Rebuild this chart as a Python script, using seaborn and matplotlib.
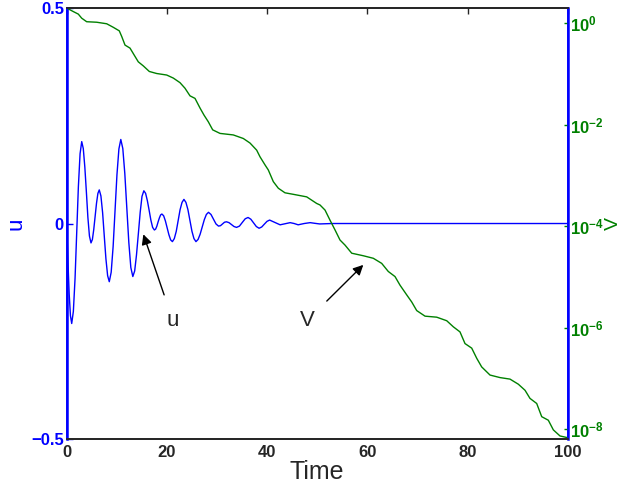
import matplotlib
matplotlib.use("Agg")
import matplotlib.pyplot as plt
import seaborn as sns

# u(t): damped oscillation
t_u = [0, 0.25, 0.5, 0.75, 1.0,
       1.33, 1.67, 2.0, 2.33, 2.67, 3.0,
       3.31, 3.62, 3.93, 4.23, 4.54, 4.85,
       5.13, 5.40, 5.68, 5.95, 6.23, 6.5,
       6.83, 7.17, 7.5, 7.83, 8.17, 8.5,
       8.88, 9.27, 9.65, 10.03, 10.42, 10.8,
       11.2, 11.6, 12.0, 12.4, 12.8, 13.2,
       13.57, 13.93, 14.3, 14.67, 15.03, 15.4,
       15.75, 16.1, 16.45, 16.8, 17.15, 17.5,
       17.75, 18.0, 18.25, 18.5, 18.75, 19.0,
       19.35, 19.7, 20.05, 20.4, 20.75, 21.1,
       21.48, 21.87, 22.25, 22.63, 23.02, 23.4,
       23.8, 24.2, 24.6, 25.0, 25.4, 25.8,
       26.22, 26.63, 27.05, 27.47, 27.88, 28.3,
       28.8, 29.3, 29.8, 30.3, 30.7, 31.1, 31.5, 31.9,
       32.4, 32.9, 33.4, 33.9, 34.48, 35.05, 35.63, 36.2,
       36.75, 37.3, 37.85, 38.4, 38.93, 39.45, 39.98, 40.5,
       41.55, 42.6, 43.6, 44.6, 45.4, 46.2, 47.4, 48.6, 49.5, 50.5,
       53.0, 100.0]
u_vals = [0, -0.089, -0.164, -0.214, -0.232,
          -0.204, -0.127, -0.021, 0.085, 0.162, 0.19,
          0.174, 0.131, 0.073, 0.014, -0.029, -0.045,
          -0.037, -0.014, 0.017, 0.047, 0.070, 0.078,
          0.064, 0.025, -0.029, -0.082, -0.121, -0.135,
          -0.113, -0.053, 0.03, 0.113, 0.173, 0.195,
          0.174, 0.116, 0.036, -0.044, -0.102, -0.123,
          -0.110, -0.073, -0.024, 0.026, 0.063, 0.076,
          0.070, 0.053, 0.031, 0.008, -0.009, -0.015,
          -0.013, -0.006, 0.004, 0.013, 0.020, 0.022,
          0.018, 0.006, -0.010, -0.026, -0.038, -0.042,
          -0.035, -0.018, 0.007, 0.032, 0.049, 0.056,
          0.049, 0.032, 0.007, -0.018, -0.035, -0.042,
          -0.037, -0.025, -0.008, 0.009, 0.021, 0.026,
          0.021, 0.010, -0.001, -0.006, -0.005, -0.001, 0.003, 0.004,
          0.002, -0.0025, -0.007, -0.009, -0.006, 0.0025, 0.011, 0.014,
          0.010, 0.0015, -0.007, -0.011, -0.008, -0.0015, 0.005, 0.008,
          0.0025, -0.003, -0.0005, 0.002, 0.0, -0.003, 0.0, 0.002, 0.0005, -0.001,
          0.0, 0.0]

# V(t): staircase decay, stored as log10 values
t_v = [0.0, 1.32, 2.32, 2.99, 3.99, 5.99, 7.98, 9.30, 10.50, 10.98, 11.64,
       12.64, 13.43, 14.29, 15.29, 16.49, 17.96, 19.96, 21.28, 22.61, 23.61,
       24.61, 25.61, 26.61, 27.41, 28.26, 29.14, 30.60, 33.25, 35.25, 36.59,
       37.92, 38.58, 39.58, 40.24, 41.24, 42.24, 43.57, 45.23, 47.90, 49.90,
       50.56, 51.56, 52.56, 53.55, 54.55, 55.55, 56.89, 59.20, 61.20, 62.87,
       64.19, 65.53, 66.53, 67.86, 68.86, 69.86, 71.52, 73.85, 75.85, 77.17,
       78.50, 79.50, 80.84, 81.84, 82.83, 84.49, 86.49, 88.48, 90.14, 91.48,
       92.47, 93.81, 94.81, 96.13, 97.13, 98.46, 99.80, 100.0]
v_log10 = [0.30, 0.23, 0.18, 0.10, 0.03, 0.02, -0.01, -0.08, -0.15, -0.26,
           -0.43, -0.49, -0.62, -0.76, -0.84, -0.95, -0.99, -1.02, -1.08,
           -1.17, -1.28, -1.43, -1.48, -1.67, -1.81, -1.94, -2.10, -2.17,
           -2.20, -2.27, -2.36, -2.50, -2.63, -2.79, -2.89, -3.12, -3.25,
           -3.34, -3.37, -3.42, -3.55, -3.58, -3.68, -3.88, -4.07, -4.27,
           -4.37, -4.53, -4.58, -4.63, -4.73, -4.89, -4.99, -5.16, -5.35,
           -5.49, -5.66, -5.77, -5.79, -5.86, -5.98, -6.08, -6.31, -6.40,
           -6.60, -6.77, -6.93, -6.98, -7.01, -7.11, -7.23, -7.39, -7.49,
           -7.75, -7.82, -8.01, -8.13, -8.16, -8.19]

x_ticks = [0, 20, 40, 60, 80, 100]
u_ticks = [-0.5, 0, 0.5]
u_ticklabels = ["\u22120.5", "0", "0.5"]
v_ticks = [1e-8, 1e-6, 1e-4, 1e-2, 1e0]
v_ticklabels = [r"$\mathbf{10^{-8}}$", r"$\mathbf{10^{-6}}$", r"$\mathbf{10^{-4}}$",
                r"$\mathbf{10^{-2}}$", r"$\mathbf{10^{0}}$"]

BLUE = (0, 0, 1)
GREEN = (0, 0.5, 0)

sns.set_style("white")
plt.rcParams['font.family'] = ['Liberation Sans', 'DejaVu Sans']
plt.rcParams['mathtext.fontset'] = 'custom'
plt.rcParams['mathtext.rm'] = 'Liberation Sans'
plt.rcParams['mathtext.bf'] = 'Liberation Sans:bold'
plt.rcParams['xtick.direction'] = 'in'
plt.rcParams['ytick.direction'] = 'in'

fig = plt.figure(figsize=(6.28, 4.92), dpi=100)
ax = fig.add_axes([0.1062, 0.1077, 0.7978, 0.876])
ax2 = ax.twinx()

v_vals = [10 ** p for p in v_log10]

sns.lineplot(x=t_u, y=u_vals, ax=ax, color=BLUE, lw=1.0, sort=False, estimator=None)
sns.lineplot(x=t_v, y=v_vals, ax=ax2, color=GREEN, lw=1.0, sort=False, estimator=None)

ax.set_xlim(0, 100)
ax.set_ylim(-0.5, 0.5)
ax.set_xticks(x_ticks)
ax.set_xticklabels([str(v) for v in x_ticks], fontweight='bold', fontsize=12)
ax.set_yticks(u_ticks)
ax.set_yticklabels(u_ticklabels, fontweight='bold', fontsize=12, color=BLUE)
ax.tick_params(axis='x', top=True, length=4, width=1, color='0.15', pad=4)
ax.tick_params(axis='y', left=True, length=4, width=1, color=BLUE, pad=2)
ax.set_xlabel("Time", fontsize=18, labelpad=0)
ax.set_ylabel("u", fontsize=16, color=BLUE)
ax.yaxis.set_label_coords(-0.080, 0.5)

ax2.set_yscale('log')
ax2.set_ylim(10 ** -8.19, 10 ** 0.30)
ax2.set_yticks(v_ticks)
ax2.set_yticklabels(v_ticklabels, fontsize=12, color=GREEN)
ax2.minorticks_off()
ax2.tick_params(axis='y', right=True, length=3, width=1, color=GREEN, pad=2)
ax2.set_ylabel("V", fontsize=14, color=GREEN)
ax2.yaxis.set_label_coords(1.0735, 0.5)

for a in (ax, ax2):
    a.spines['top'].set_color('0.15')
    a.spines['bottom'].set_color('0.15')
    a.spines['left'].set_color(BLUE)
    a.spines['right'].set_color(BLUE)
    for s in a.spines.values():
        s.set_linewidth(1.3)
ax.spines['left'].set_linewidth(1.8)
ax2.spines['right'].set_linewidth(1.8)

arrow = dict(arrowstyle='-|>', color='black', lw=1.0, mutation_scale=15,
             shrinkA=9, shrinkB=0)
ax.annotate("u", xy=(15.3, -0.025), xytext=(21.2, -0.225), fontsize=16,
            ha='center', va='center', arrowprops=arrow)
ax.annotate("V", xy=(59.2, -0.096), xytext=(48.0, -0.225), fontsize=16,
            ha='center', va='center', arrowprops=arrow)

fig.savefig("out.png", dpi=100)
